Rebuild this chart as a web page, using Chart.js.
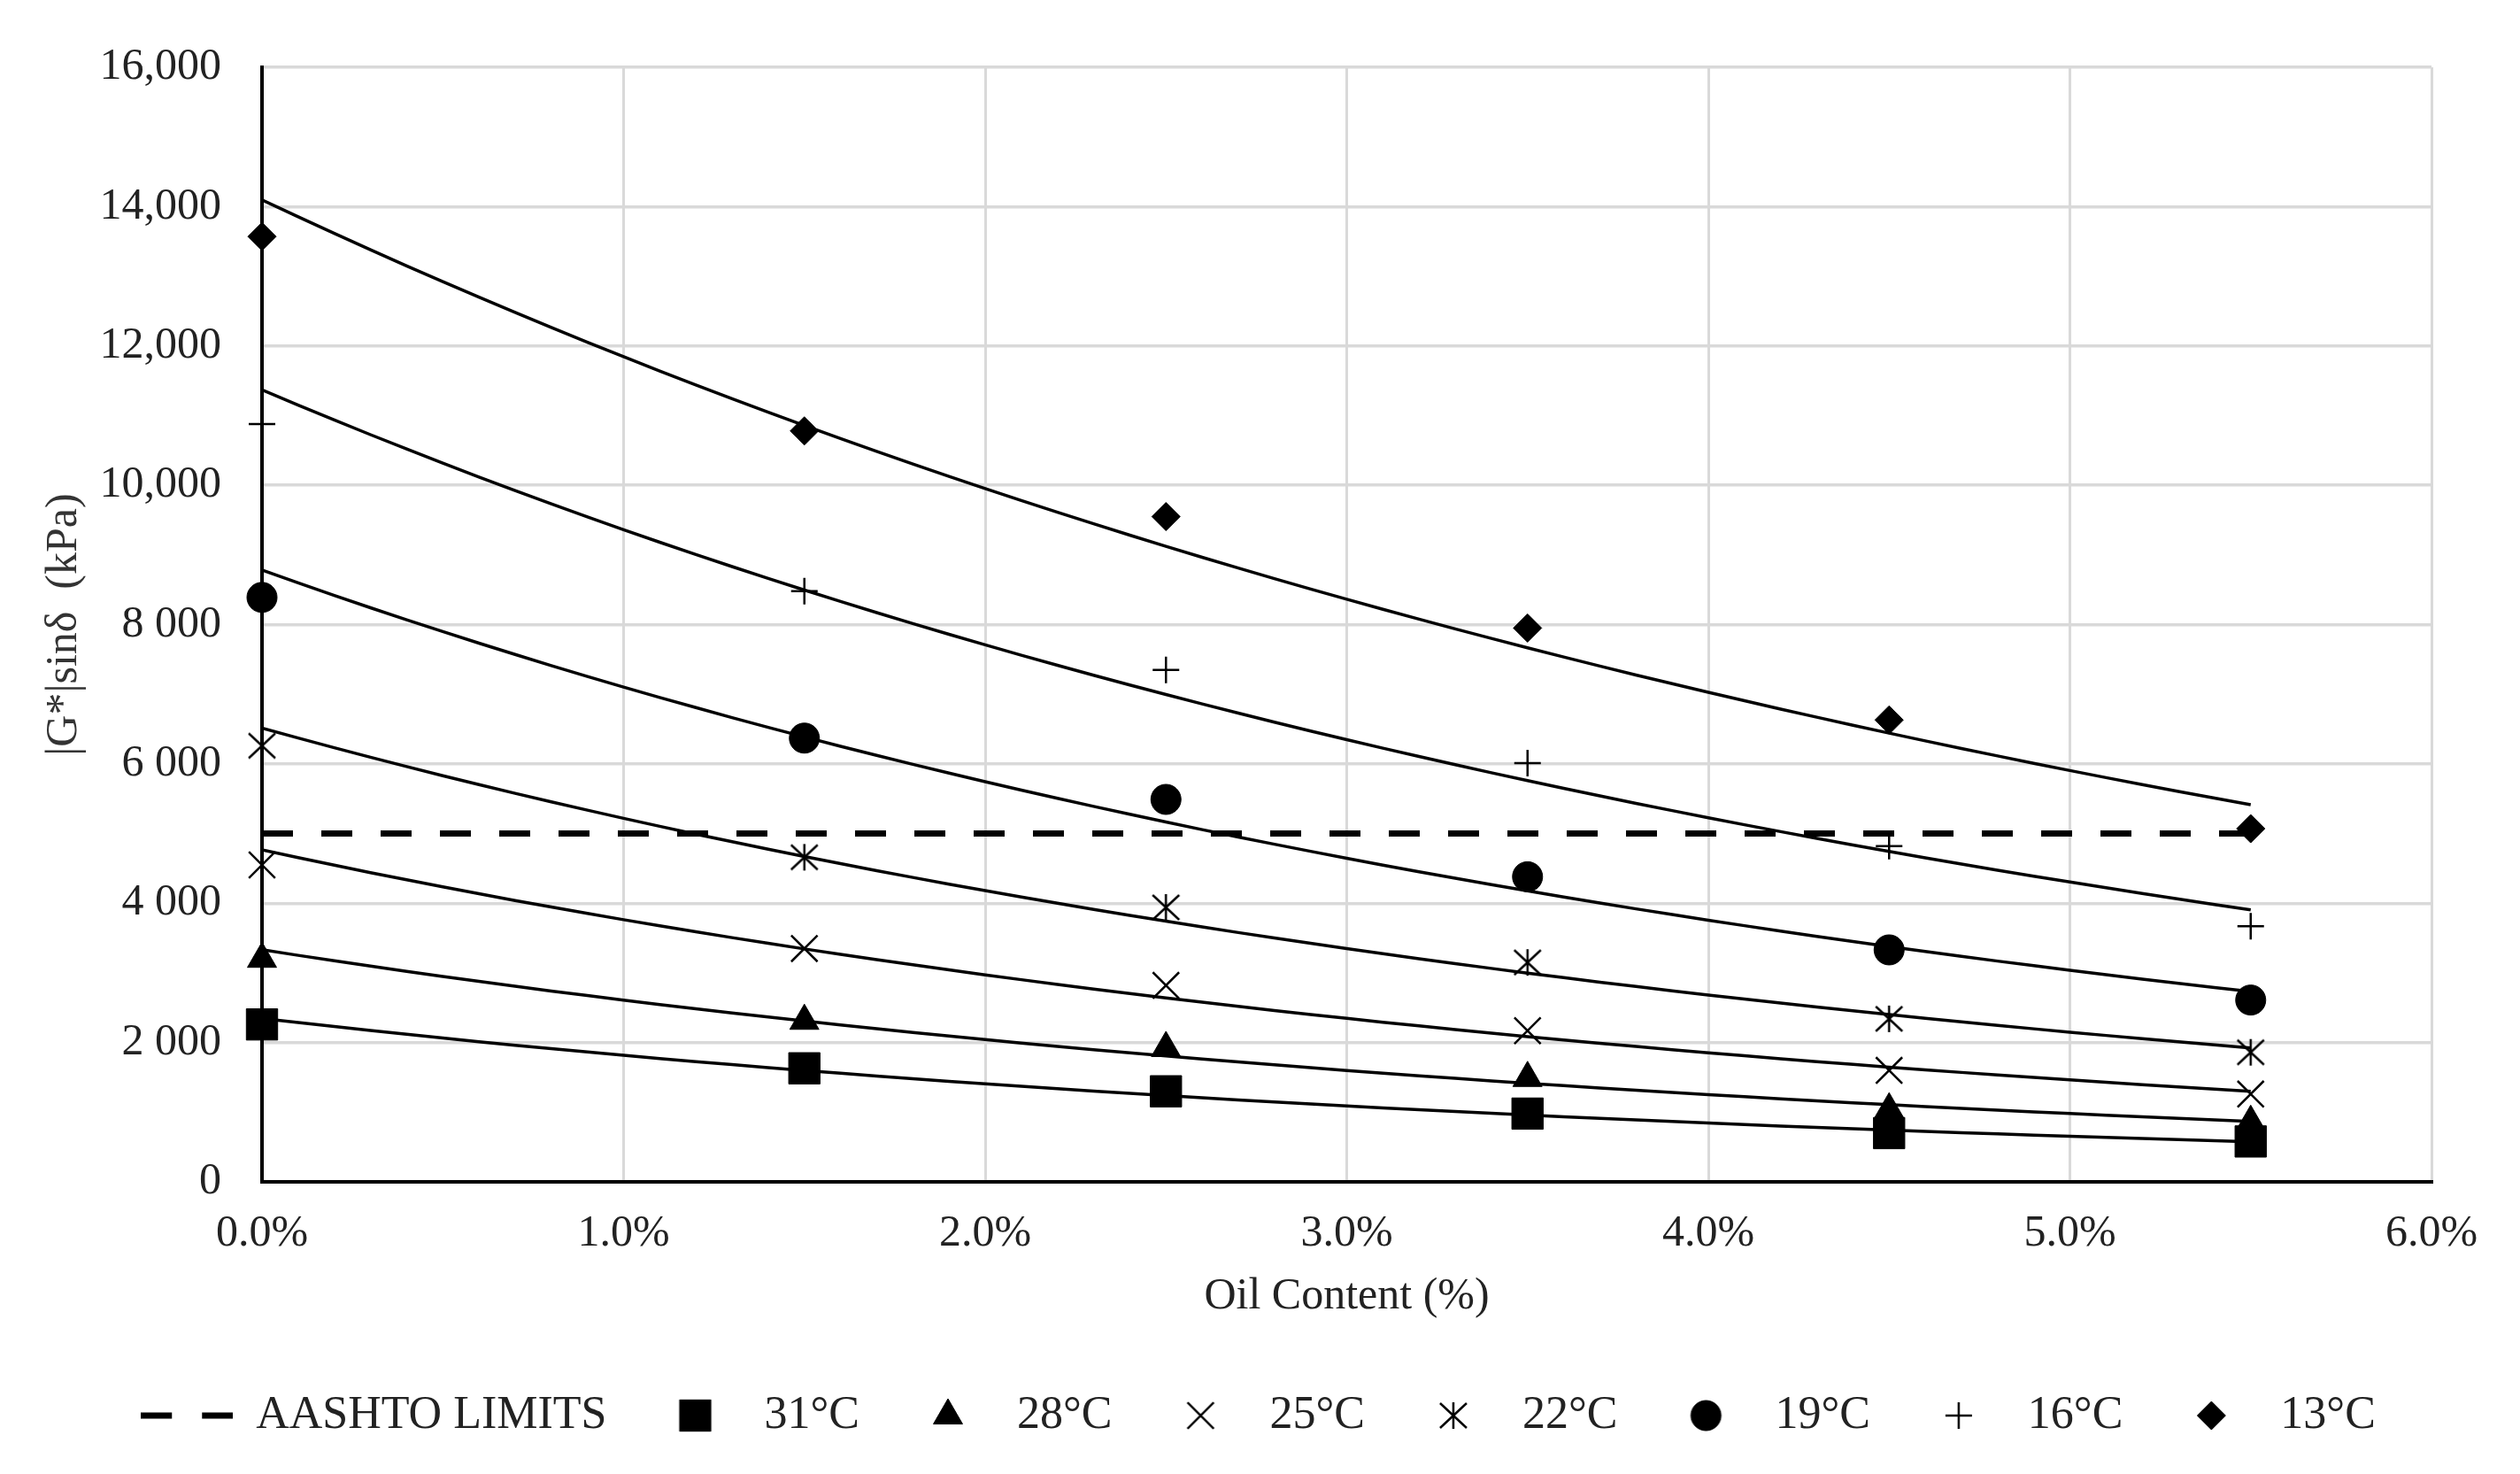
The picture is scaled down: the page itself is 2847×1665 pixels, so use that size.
<!DOCTYPE html>
<html>
<head>
<meta charset="utf-8">
<script src="https://cdn.jsdelivr.net/npm/chart.js@4.4.1/dist/chart.umd.min.js"></script>
<style>
    html, body { margin: 0; padding: 0; background: #fff; }
    #contenedor { width: 2847px; height: 1665px; }
</style>
</head>
<body>
<div id="contenedor"><canvas id="grafico"></canvas></div>
<script>
// Contenido de aceite (%) en cada ensayo
const oilContent = [0, 1.5, 2.5, 3.5, 4.5, 5.5];

const g31 = [2260, 1630, 1300, 980, 700, 580];
const g28 = [3200, 2310, 1920, 1490, 1040, 860];
const g25 = [4550, 3350, 2820, 2170, 1600, 1260];
const g22 = [6260, 4660, 3940, 3150, 2340, 1860];
const g19 = [8390, 6370, 5490, 4380, 3330, 2610];
const g16 = [10880, 8480, 7350, 6010, 4820, 3670];
const g13 = [13570, 10780, 9550, 7950, 6630, 5070];

// Límite AASHTO
const aashtoLimit = 5000;
const aashtoRange = [0, 5.5];

// Etiquetas de los ejes
const xTickLabels = ["0.0%", "1.0%", "2.0%", "3.0%", "4.0%", "5.0%", "6.0%"];
const yTickLabels = ["0", "2 000", "4 000", "6 000", "8 000", "10,000", "12,000", "14,000", "16,000"];

// Marcador "estrella" como el de Excel (x con barra vertical)
function marcadorEstrella(tam) {
    const c = document.createElement("canvas");
    c.width = tam;
    c.height = tam;
    const g = c.getContext("2d");
    const m = tam / 2;
    g.strokeStyle = "#000";
    g.lineWidth = 2.5;
    g.beginPath();
    g.moveTo(m - 15, m - 14); g.lineTo(m + 15, m + 14);
    g.moveTo(m + 15, m - 14); g.lineTo(m - 15, m + 14);
    g.moveTo(m, m - 15); g.lineTo(m, m + 15);
    g.stroke();
    return c;
}

// Imagen de la leyenda: el marcador centrado en una caja de 104 px
function iconoLeyenda(s) {
    const c = document.createElement("canvas");
    c.width = 104;
    c.height = 50;
    const g = c.getContext("2d");
    g.strokeStyle = "#000";
    g.fillStyle = "#000";
    if (s === null) {
        // línea discontinua del límite AASHTO
        g.lineWidth = 7;
        g.setLineDash([35, 34]);
        g.beginPath();
        g.moveTo(0, 25);
        g.lineTo(104, 25);
        g.stroke();
    } else if (typeof s.estilo === "object") {
        g.drawImage(s.estilo, 52 - s.estilo.width / 2, 25 - s.estilo.height / 2);
    } else {
        g.lineWidth = s.ancho;
        Chart.helpers.drawPoint(g, { pointStyle: s.estilo, radius: s.radio, rotation: 0, borderWidth: s.ancho }, 52, 25);
    }
    return c;
}

// Línea de tendencia exponencial (mínimos cuadrados sobre ln y, como Excel)
function tendenciaExponencial(xs, ys) {
    const n = xs.length;
    const lny = ys.map(Math.log);
    const mx = xs.reduce((a, b) => a + b, 0) / n;
    const my = lny.reduce((a, b) => a + b, 0) / n;
    let sxy = 0, sxx = 0;
    for (let i = 0; i < n; i++) {
        sxy += (xs[i] - mx) * (lny[i] - my);
        sxx += (xs[i] - mx) * (xs[i] - mx);
    }
    const b = sxy / sxx;
    const a = Math.exp(my - b * mx);
    const puntos = [];
    for (let i = 0; i <= 55; i++) {
        const x = i / 10;
        puntos.push({ x: x, y: a * Math.exp(b * x) });
    }
    return puntos;
}

const series = [
    { label: "31°C", valores: g31, estilo: "rect", radio: 25, ancho: 1 },
    { label: "28°C", valores: g28, estilo: "triangle", radio: 19, ancho: 1 },
    { label: "25°C", valores: g25, estilo: "crossRot", radio: 21, ancho: 2.5 },
    { label: "22°C", valores: g22, estilo: marcadorEstrella(40), radio: 17, ancho: 2.5 },
    { label: "19°C", valores: g19, estilo: "circle", radio: 17, ancho: 1 },
    { label: "16°C", valores: g16, estilo: "cross", radio: 15, ancho: 2.5 },
    { label: "13°C", valores: g13, estilo: "rectRot", radio: 16, ancho: 1 }
];

const datasets = [];

datasets.push({
    label: "AASHTO LIMITS",
    icono: iconoLeyenda(null),
    data: aashtoRange.map(x => ({ x: x, y: aashtoLimit })),
    showLine: true,
    borderColor: "#000",
    backgroundColor: "#000",
    borderWidth: 7,
    borderDash: [35, 32],
    pointRadius: 0
});

series.forEach(s => {
    datasets.push({
        label: s.label,
        icono: iconoLeyenda(s),
        data: oilContent.map((x, i) => ({ x: x, y: s.valores[i] })),
        showLine: false,
        pointStyle: s.estilo,
        pointRadius: s.radio,
        pointBorderWidth: s.ancho,
        borderColor: "#000",
        backgroundColor: "#000",
        clip: false
    });
});

series.forEach(s => {
    datasets.push({
        label: "tendencia " + s.label,
        esTendencia: true,
        data: tendenciaExponencial(oilContent, s.valores),
        showLine: true,
        borderColor: "#000",
        borderWidth: 3.5,
        pointRadius: 0,
        tension: 0
    });
});

// Desplaza la leyenda para centrarla en el lienzo completo
const moverLeyenda = {
    id: "moverLeyenda",
    afterLayout: function (chart) {
        if (chart.legend) {
            chart.legend.left += 48;
            chart.legend.right += 48;
        }
    }
};

Chart.defaults.font.family = "'Liberation Serif', 'Times New Roman', serif";
Chart.defaults.font.size = 50;
Chart.defaults.color = "#222";

const ctx = document.getElementById("grafico").getContext("2d");
const grafico = new Chart(ctx, {
    type: "scatter",
    data: { datasets: datasets },
    plugins: [moverLeyenda],
    options: {
        responsive: true,
        maintainAspectRatio: false,
        devicePixelRatio: 1,
        animation: false,
        layout: { padding: { top: 75, right: 100, bottom: 30, left: 0 } },
        plugins: {
            tooltip: { enabled: false },
            legend: {
                position: "bottom",
                labels: {
                    usePointStyle: true,
                    pointStyleWidth: 104,
                    boxHeight: 40,
                    padding: 48,
                    color: "#222",
                    font: { size: 52 },
                    filter: (item, data) => !data.datasets[item.datasetIndex].esTendencia,
                    generateLabels: function (chart) {
                        const items = Chart.defaults.plugins.legend.labels.generateLabels(chart);
                        items.forEach(item => {
                            const ds = chart.data.datasets[item.datasetIndex];
                            if (ds.icono) {
                                item.pointStyle = ds.icono;
                                item.rotation = 0;
                            }
                        });
                        return items;
                    }
                }
            }
        },
        scales: {
            x: {
                type: "linear",
                min: 0,
                max: 6,
                ticks: {
                    stepSize: 1,
                    padding: 29,
                    color: "#222",
                    callback: (v, i) => xTickLabels[i]
                },
                grid: {
                    drawTicks: false,
                    lineWidth: 3,
                    color: (c) => (c.tick && c.tick.value === 0 ? "rgba(0,0,0,0)" : "#d9d9d9")
                },
                border: { display: true, color: "#000", width: 4 },
                title: {
                    display: true,
                    text: "Oil Content (%)",
                    color: "#222",
                    padding: { top: 0, bottom: 30 }
                },
                afterFit: (scale) => { scale.height = 190; }
            },
            y: {
                min: 0,
                max: 16000,
                ticks: {
                    stepSize: 2000,
                    padding: 46,
                    color: "#222",
                    callback: (v, i) => yTickLabels[i]
                },
                grid: {
                    drawTicks: false,
                    lineWidth: 3.5,
                    color: (c) => (c.tick && c.tick.value === 0 ? "rgba(0,0,0,0)" : "#d9d9d9")
                },
                border: { display: true, color: "#000", width: 4 },
                title: {
                    display: true,
                    text: "|G*|sinδ  (kPa)",
                    color: "#333",
                    padding: { top: 43, bottom: 0 }
                },
                afterFit: (scale) => { scale.width = 296; }
            }
        }
    }
});
</script>
</body>
</html>
